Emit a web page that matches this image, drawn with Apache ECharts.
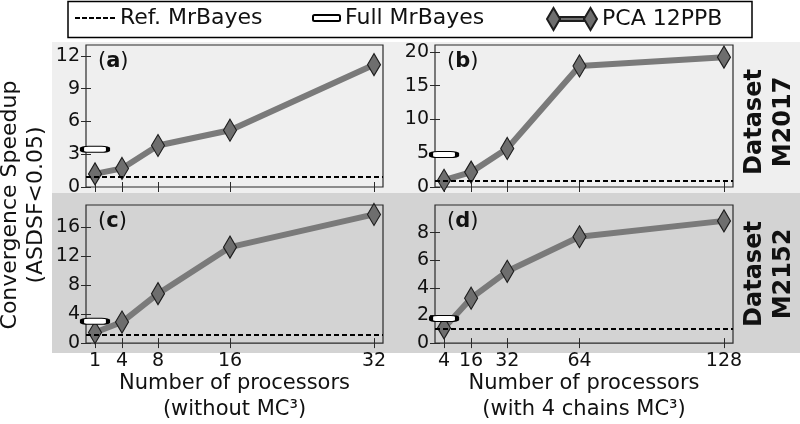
<!DOCTYPE html>
<html>
<head>
<meta charset="utf-8">
<script src="https://cdn.jsdelivr.net/npm/echarts@6/dist/echarts.min.js"></script>
<style>
  html, body { margin: 0; padding: 0; background: #fff; }
  #chart { width: 800px; height: 424px; }
</style>
</head>
<body>
<div id="chart"></div>
<script>
// processor counts (x) for the two columns
const procNoMC3 = [1, 4, 8, 16, 32];
const procMC3 = [4, 16, 32, 64, 128];

// PCA 12PPB convergence speedup, one array per panel
const speedA = [1.2, 1.7, 3.8, 5.2, 11.2];
const speedB = [1.0, 2.2, 5.7, 17.9, 19.2];
const speedC = [1.45, 2.9, 6.8, 13.2, 17.7];
const speedD = [1.1, 3.25, 5.2, 7.7, 8.85];

// Full MrBayes and reference level, panels a..d
const fullMrBayes = [3.45, 4.8, 3.0, 1.78];
const refMrBayes = [0.95, 0.95, 1.2, 1.05];

// y tick labels per panel
const yTicksA = [0, 3, 6, 9, 12];
const yTicksB = [0, 5, 10, 15, 20];
const yTicksC = [0, 4, 8, 12, 16];
const yTicksD = [0, 2, 4, 6, 8];

const FONT = '"DejaVu Sans", sans-serif';
const INK = '#2a2a2a';

// layout of the 4 panels
const panels = [
  { tag: 'a', xs: procNoMC3, ys: speedA, yTicks: yTicksA, yMax: 13, xMax: 33, left: 86, top: 45, width: 297 },
  { tag: 'b', xs: procMC3, ys: speedB, yTicks: yTicksB, yMax: 21, xMax: 132, left: 435, top: 45, width: 298 },
  { tag: 'c', xs: procNoMC3, ys: speedC, yTicks: yTicksC, yMax: 19, xMax: 33, left: 86, top: 205, width: 297 },
  { tag: 'd', xs: procMC3, ys: speedD, yTicks: yTicksD, yMax: 10, xMax: 132, left: 435, top: 205, width: 298 }
];
const PANEL_H = 142;

const chart = echarts.init(document.getElementById('chart'));

const grids = [], xAxes = [], yAxes = [], series = [], titles = [];
const tick = (vals) => ({ show: true, inside: true, length: 5, customValues: vals, lineStyle: { color: INK, width: 1 } });

panels.forEach((p, i) => {
  grids.push({
    left: p.left, top: p.top, width: p.width, height: PANEL_H,
    show: true, borderColor: INK, borderWidth: 1.2, backgroundColor: 'transparent'
  });
  const bottomRow = i >= 2;
  xAxes[i] = {
    type: 'value', gridIndex: i, min: 0, max: p.xMax, position: 'bottom',
    axisLine: { show: false }, splitLine: { show: false },
    axisTick: tick(p.xs),
    axisLabel: {
      show: bottomRow, customValues: p.xs, margin: 8,
      fontSize: 19, color: '#111', fontFamily: FONT
    },
    name: bottomRow ? (i === 2 ? 'Number of processors\n(without MC³)' : 'Number of processors\n(with 4 chains MC³)') : '',
    nameLocation: 'middle', nameGap: 27,
    nameTextStyle: { fontSize: 21, lineHeight: 26, color: '#111', fontFamily: FONT }
  };
  xAxes[i + 4] = {
    type: 'value', gridIndex: i, min: 0, max: p.xMax, position: 'top',
    axisLine: { show: false }, splitLine: { show: false },
    axisTick: tick(p.xs), axisLabel: { show: false, customValues: p.xs }
  };
  yAxes[i] = {
    type: 'value', gridIndex: i, min: 0, max: p.yMax, position: 'left',
    axisLine: { show: false }, splitLine: { show: false },
    axisTick: tick(p.yTicks),
    axisLabel: { customValues: p.yTicks, margin: 6, fontSize: 19, color: '#111', fontFamily: FONT }
  };
  yAxes[i + 4] = {
    type: 'value', gridIndex: i, min: 0, max: p.yMax, position: 'right',
    axisLine: { show: false }, splitLine: { show: false },
    axisTick: tick(p.yTicks), axisLabel: { show: false, customValues: p.yTicks }
  };

  series.push({
    name: 'Ref. MrBayes', type: 'line', xAxisIndex: i, yAxisIndex: i,
    data: [], symbol: 'none', color: '#000', z: 2,
    markLine: {
      silent: true, symbol: 'none', label: { show: false },
      lineStyle: { color: '#000', type: [5, 3], width: 2 },
      data: [{ yAxis: refMrBayes[i] }]
    }
  });
  series.push({
    name: 'PCA 12PPB', type: 'line', xAxisIndex: i, yAxisIndex: i, z: 3, clip: false,
    data: p.xs.map((x, k) => [x, p.ys[k]]),
    symbol: 'diamond', symbolSize: [13, 22], showAllSymbol: true,
    lineStyle: { color: '#7a7a7a', width: 6 },
    itemStyle: { color: '#6e6e6e', borderColor: '#1e1e1e', borderWidth: 1.2 }
  });
  series.push({
    name: 'Full MrBayes', type: 'scatter', xAxisIndex: i, yAxisIndex: i, z: 5, clip: false,
    data: [[p.xs[0], fullMrBayes[i]]],
    symbol: 'roundRect', symbolSize: [26, 6],
    itemStyle: { color: '#fff', borderColor: '#000', borderWidth: 2, opacity: 1 }
  });

  titles.push({
    text: '({b|' + p.tag + '})', left: p.left + 12, top: p.top + 6, padding: 0,
    textStyle: {
      fontSize: 21, fontWeight: 'normal', color: '#111', fontFamily: FONT,
      rich: { b: { fontSize: 21, fontWeight: 'bold', color: '#111', fontFamily: FONT } }
    }
  });
});

const dashIcon = 'path://M0,0h5v2h-5z M7,0h5v2h-5z M14,0h5v2h-5z M21,0h5v2h-5z M28,0h5v2h-5z M35,0h5v2h-5z';
const pcaIcon = 'path://M0,11 L6.5,0 L13,11 L6.5,22 Z M13,9 L37,9 L37,13 L13,13 Z M37,11 L43.5,0 L50,11 L43.5,22 Z';
const legendText = { fontSize: 22, color: '#111', fontFamily: FONT };

const option = {
  animation: false,
  backgroundColor: '#fff',
  title: titles,
  legend: [
    { data: [{ name: 'Ref. MrBayes', icon: dashIcon }], left: 75, top: 7, padding: 0, selectedMode: false,
      itemWidth: 40, itemHeight: 2, itemStyle: { color: '#000', borderWidth: 0 }, textStyle: legendText },
    { data: [{ name: 'Full MrBayes', icon: 'roundRect' }], left: 312, top: 7, padding: 0, selectedMode: false,
      itemWidth: 27, itemHeight: 6, textStyle: legendText },
    { data: [{ name: 'PCA 12PPB', icon: pcaIcon }], left: 546, top: 7, padding: 0, selectedMode: false,
      itemWidth: 50, itemHeight: 22, textStyle: legendText }
  ],
  grid: grids,
  xAxis: xAxes,
  yAxis: yAxes,
  series: series,
  graphic: [
    { type: 'rect', z: -10, shape: { x: 52, y: 42, width: 748, height: 151 }, style: { fill: '#efefef' } },
    { type: 'rect', z: -10, shape: { x: 52, y: 193, width: 748, height: 160 }, style: { fill: '#d3d3d3' } },
    { type: 'rect', z: -5, shape: { x: 68, y: 1.5, width: 684, height: 36 }, style: { fill: 'transparent', stroke: '#000', lineWidth: 1.5 } },
    { type: 'text', x: 23, y: 205, rotation: Math.PI / 2,
      style: { text: 'Convergence Speedup\n(ASDSF<0.05)', x: 0, y: 0, align: 'center', verticalAlign: 'middle',
        font: '22px ' + FONT, lineHeight: 26, fill: '#111' } },
    { type: 'text', x: 769, y: 122, rotation: Math.PI / 2,
      style: { text: 'Dataset\nM2017', x: 0, y: 0, align: 'center', verticalAlign: 'middle',
        font: 'bold 24px ' + FONT, lineHeight: 29, fill: '#111' } },
    { type: 'text', x: 769, y: 274, rotation: Math.PI / 2,
      style: { text: 'Dataset\nM2152', x: 0, y: 0, align: 'center', verticalAlign: 'middle',
        font: 'bold 24px ' + FONT, lineHeight: 29, fill: '#111' } }
  ]
};

chart.setOption(option);
</script>
</body>
</html>
